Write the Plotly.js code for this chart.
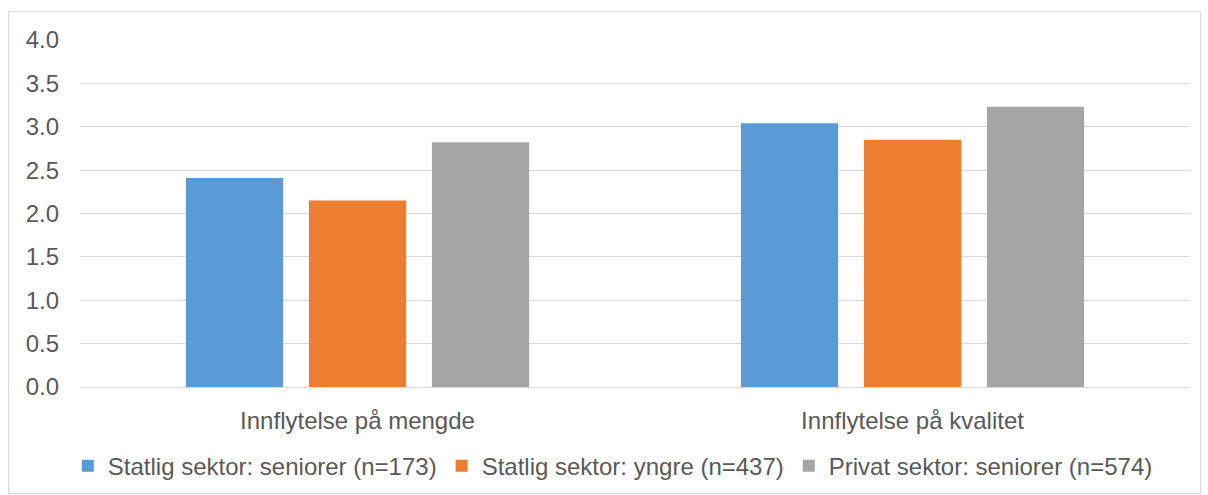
<!DOCTYPE html>
<html><head><meta charset="utf-8">
<script src="https://cdn.plot.ly/plotly-3.0.1.min.js"></script>
<style>body{margin:0;background:#fff}#frame{position:absolute;left:8px;top:11px;width:1191px;height:481px;border:1px solid #d9d9d9;pointer-events:none}</style>
</head><body>
<div id="chart" style="width:1208px;height:495px"></div>
<div id="frame"></div>
<script>
const categories = ["Innflytelse på mengde", "Innflytelse på kvalitet"];
const seriesNames = ["Statlig sektor: seniorer (n=173)", "Statlig sektor: yngre (n=437)", "Privat sektor: seniorer (n=574)"];
const statligSeniorer = [2.41, 3.04];
const statligYngre = [2.15, 2.85];
const privatSeniorer = [2.82, 3.23];
const yTicks = [0, 0.5, 1, 1.5, 2, 2.5, 3, 3.5, 4];
const colors = ["#5b9bd5", "#ed7d31", "#a5a5a5"];
const values = [statligSeniorer, statligYngre, privatSeniorer];
const data = values.map((v, i) => ({type: "bar", x: categories, y: v, name: seriesNames[i], marker: {color: colors[i]}, hoverinfo: "none"}));
const layout = {
  width: 1208, height: 495,
  margin: {l: 80, r: 18, t: 40, b: 108, autoexpand: false},
  paper_bgcolor: "#fff", plot_bgcolor: "#fff",
  font: {family: "Liberation Sans, Arial, sans-serif", size: 24, color: "#595959"},
  barmode: "group", bargap: 0.335, bargroupgap: 0.21,
  showlegend: true,
  legend: {orientation: "h", x: 0.48, xanchor: "center", y: -0.228, yanchor: "middle", font: {size: 24, color: "#595959"}, itemwidth: 30, traceorder: "normal"},
  xaxis: {showgrid: false, showline: true, linecolor: "#d9d9d9", linewidth: 1, ticks: "", ticklabelstandoff: 12, tickfont: {size: 24, color: "#595959"}},
  yaxis: {range: [0, 4], tickvals: yTicks, ticktext: yTicks.map(t => t.toFixed(1)), showgrid: true, gridcolor: "#d9d9d9", gridwidth: 1, zeroline: false, showline: false, ticks: "", ticklabelstandoff: 20, tickfont: {size: 24, color: "#595959"}}
};
Plotly.newPlot("chart", data, layout, {displayModeBar: false, staticPlot: true});
</script>
</body></html>
